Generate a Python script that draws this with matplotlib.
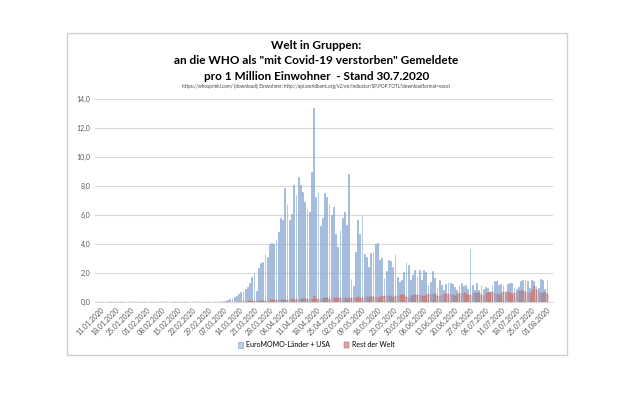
import numpy as np
import pandas as pd
import matplotlib
matplotlib.use("Agg")
import matplotlib.pyplot as plt
from matplotlib.patches import Rectangle

# daily values, 11.01.2020 .. 01.08.2020 (deaths per 1 million inhabitants)
start_date = "2020-01-11"
end_date = "2020-08-01"

euromomo_usa = [
    0, 0, 0, 0, 0, 0, 0, 0, 0, 0,
    0, 0, 0, 0, 0, 0, 0, 0, 0, 0,
    0, 0, 0, 0, 0, 0, 0, 0, 0, 0,
    0, 0, 0, 0, 0, 0, 0, 0, 0, 0,
    0, 0, 0, 0, 0, 0, 0, 0.01, 0.01, 0.01,
    0.01, 0.01, 0.02, 0.02, 0.03, 0.05, 0.07, 0.1, 0.15, 0.2,
    0.3, 0.35, 0.4, 0.55, 0.7, 0.75, 0.9, 1.05, 1.3, 1.75,
    2.0, 0.8, 2.35, 2.7, 2.8, 3.3, 3.1, 4.0, 4.07, 4.0,
    4.3, 4.85, 5.8, 5.65, 7.85, 6.8, 5.7, 6.1, 8.1, 7.4,
    8.6, 8.1, 7.6, 6.9, 6.4, 6.2, 8.95, 13.4, 7.26, 7.6,
    5.24, 5.77, 7.5, 7.26, 6.8, 6.0, 6.53, 4.69, 3.8, 4.97,
    5.77, 6.19, 5.3, 8.87, 1.63, 1.1, 3.47, 5.66, 4.67, 5.93,
    3.29, 3.13, 2.44, 3.4, 3.47, 4.0, 4.09, 2.94, 3.08, 1.68,
    2.16, 2.94, 2.85, 2.44, 3.3, 1.74, 1.4, 1.52, 2.09, 2.78,
    2.55, 1.52, 1.86, 2.2, 1.8, 2.25, 1.56, 2.2, 2.09, 1.17,
    1.4, 2.16, 1.7, 1.06, 1.52, 1.17, 0.83, 1.24, 1.4, 1.33,
    1.24, 1.06, 0.83, 1.17, 1.3, 1.1, 1.2, 0.9, 3.7, 1.17,
    0.83, 1.29, 0.83, 1.17, 0.94, 1.06, 1.0, 0.71, 1.17, 1.47,
    1.47, 1.17, 1.24, 1.17, 0.71, 1.24, 1.33, 1.33, 1.03, 0.9,
    1.06, 1.47, 1.52, 1.63, 1.47, 1.0, 1.52, 1.47, 1.1, 0.95,
    1.62, 1.55, 0.9, 1.5,
]

rest_der_welt = [
    0, 0, 0, 0, 0, 0, 0, 0, 0, 0,
    0, 0, 0, 0, 0, 0, 0.01, 0, 0.01, 0.01,
    0.01, 0.01, 0.01, 0.01, 0.01, 0.01, 0.01, 0.01, 0.01, 0.02,
    0.01, 0.01, 0.02, 0.02, 0.01, 0.02, 0.02, 0.02, 0.02, 0.02,
    0.02, 0.02, 0.02, 0.02, 0.03, 0.02, 0.01, 0.02, 0.02, 0.02,
    0.02, 0.02, 0.02, 0.02, 0.02, 0.02, 0.02, 0.02, 0.03, 0.03,
    0.03, 0.03, 0.04, 0.04, 0.04, 0.05, 0.05, 0.06, 0.06, 0.07,
    0.07, 0.08, 0.09, 0.09, 0.1, 0.11, 0.1, 0.12, 0.13, 0.13,
    0.14, 0.15, 0.13, 0.16, 0.17, 0.18, 0.19, 0.2, 0.17, 0.2,
    0.22, 0.21, 0.23, 0.2, 0.22, 0.24, 0.25, 0.4, 0.23, 0.22,
    0.25, 0.27, 0.26, 0.27, 0.25, 0.22, 0.28, 0.3, 0.29, 0.3,
    0.29, 0.26, 0.25, 0.3, 0.32, 0.33, 0.32, 0.34, 0.31, 0.28,
    0.33, 0.36, 0.37, 0.4, 0.38, 0.33, 0.32, 0.37, 0.41, 0.42,
    0.43, 0.42, 0.36, 0.35, 0.42, 0.45, 0.5, 0.47, 0.48, 0.38,
    0.37, 0.45, 0.5, 0.52, 0.5, 0.48, 0.42, 0.4, 0.5, 0.55,
    0.56, 0.57, 0.55, 0.45, 0.43, 0.52, 0.56, 0.58, 0.57, 0.55,
    0.47, 0.45, 0.55, 0.6, 0.62, 0.6, 0.56, 0.5, 0.48, 0.56,
    0.62, 0.65, 0.6, 0.52, 0.5, 0.6, 0.66, 0.7, 0.67, 0.6,
    0.55, 0.52, 0.62, 0.7, 0.75, 0.72, 0.65, 0.58, 0.6, 0.72,
    0.78, 0.8, 0.76, 0.7, 0.6, 0.65, 0.85, 1.1, 0.85, 0.7,
    0.65, 0.6, 0.72, 0.55,
]

title = ('Welt in Gruppen:\nan die WHO als "mit Covid-19 verstorben" Gemeldete\n'
         'pro 1 Million Einwohner  - Stand 30.7.2020')
source = ("https://whosprinkl.com/ (download); Einwohner: "
          "http://api.worldbank.org/v2/en/indicator/SP.POP.TOTL?downloadformat=excel")

dates = pd.date_range(start_date, end_date)
x = np.arange(len(dates))

fig = plt.figure(figsize=(6.4, 3.95), dpi=100)
plt.rcParams['font.family'] = ['Lato', 'DejaVu Sans']

# chart frame like the excel chart area
fig.patches.append(Rectangle((0.105, 0.101), 0.781, 0.815, transform=fig.transFigure,
                             fill=False, edgecolor='#d0d0d0', linewidth=1.0))

ax = fig.add_axes([0.148, 0.235, 0.716, 0.514])
w = 0.36
ax.bar(x - w / 2, euromomo_usa, width=w, color='#b8cce4', edgecolor='#7a9dcc',
       linewidth=0.4, label='EuroMOMO-Länder + USA', zorder=2)
ax.bar(x + w / 2, rest_der_welt, width=w, color='#d9aaaa', edgecolor='#a85a5a',
       linewidth=0.35, label='Rest der Welt', zorder=3)

ax.set_xlim(-2.5, len(x) + 1.5)
ax.set_ylim(0, 14)
ax.set_yticks(np.arange(0, 15, 2))
ax.set_yticklabels([f"{v:.1f}".replace('.', ',') for v in np.arange(0, 15, 2)],
                   fontsize=5, color='#595959')
tick_idx = x[::7]
ax.set_xticks(tick_idx)
ax.set_xticklabels([dates[i].strftime('%d.%m.%Y') for i in tick_idx],
                   rotation=45, ha='right', rotation_mode='anchor',
                   fontsize=5, color='#595959')
ax.tick_params(length=0, pad=3)
ax.grid(axis='y', color='#d9d9d9', linewidth=0.8, zorder=0)
ax.set_axisbelow(True)
for s in ['top', 'right', 'left']:
    ax.spines[s].set_visible(False)
ax.spines['bottom'].set_color('#d9d9d9')

fig.text(0.494, 0.846, title, ha='center', va='center', fontsize=8.5,
         fontweight='bold', linespacing=1.5)
fig.text(0.494, 0.781, source, ha='center', va='center', fontsize=3.3, color='#404040')

fig.legend(loc='center', bbox_to_anchor=(0.494, 0.127), ncol=2, frameon=False,
           fontsize=5, handlelength=0.8, handleheight=0.8, columnspacing=2.0,
           handletextpad=0.4)

fig.savefig('out.png', dpi=100, facecolor='white')
